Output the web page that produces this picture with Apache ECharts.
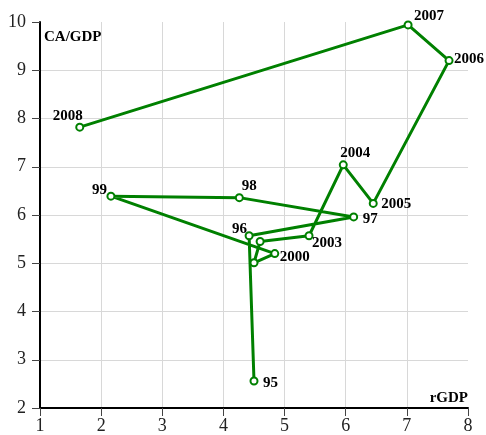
<!DOCTYPE html>
<html>
<head>
<meta charset="utf-8">
<script src="https://cdn.jsdelivr.net/npm/echarts@6/dist/echarts.min.js"></script>
<style>
html,body{margin:0;padding:0;background:#fff;}
#chart{width:486px;height:435px;}
</style>
</head>
<body>
<div id="chart"></div>
<script>
// Data
var years = ['95','96','97','98','99','2000','2001','2002','2003','2004','2005','2006','2007','2008'];
var rGDP  = [4.50, 4.42, 6.13, 4.26, 2.16, 4.84, 4.50, 4.60, 5.40, 5.96, 6.45, 7.69, 7.02, 1.65];
var caGDP = [2.56, 5.57, 5.96, 6.36, 6.39, 5.20, 5.01, 5.45, 5.57, 7.04, 6.24, 9.20, 9.94, 7.82];
var showLabel = [true,true,true,true,true,true,false,false,true,true,true,true,true,true];
var xTicks = [1,2,3,4,5,6,7,8];
var yTicks = [2,3,4,5,6,7,8,9,10];

// Label placement (styling): offsets of label centre from point, and alignment
var labelStyle = {
  '95':   {offset:[9,2],   align:'left'},
  '96':   {offset:[-2,-7], align:'right'},
  '97':   {offset:[9,2],   align:'left'},
  '98':   {offset:[10,-12],align:'center'},
  '99':   {offset:[-4,-6], align:'right'},
  '2000': {offset:[5,4],   align:'left'},
  '2003': {offset:[3,7],   align:'left'},
  '2004': {offset:[12,-12],align:'center'},
  '2005': {offset:[8,1],   align:'left'},
  '2006': {offset:[5,-1],  align:'left'},
  '2007': {offset:[21,-9], align:'center'},
  '2008': {offset:[3,-11], align:'right'}
};

var GREEN = '#008000';
var serif = '"Liberation Serif","DejaVu Serif",serif';

var seriesData = years.map(function(y, i){
  var item = {value:[rGDP[i], caGDP[i]], name:y};
  if (showLabel[i]) {
    var ls = labelStyle[y];
    item.label = {
      show:true, formatter:y, position:'inside',
      offset: ls.offset, align: ls.align, verticalAlign:'middle',
      color:'#000', fontFamily:serif, fontWeight:'bold', fontSize:15
    };
  } else {
    item.label = {show:false};
  }
  return item;
});

var chart = echarts.init(document.getElementById('chart'), null, {renderer:'canvas'});
chart.setOption({
  animation:false,
  backgroundColor:'#fff',
  grid:{left:40, right:18, top:22, bottom:25, containLabel:false},
  xAxis:{
    type:'value', min:xTicks[0], max:xTicks[xTicks.length-1], interval:1,
    axisLine:{show:true, onZero:false, lineStyle:{color:'#000', width:2}},
    axisTick:{show:true, length:8, lineStyle:{color:'#444', width:1}},
    axisLabel:{margin:9, color:'#222', fontFamily:serif, fontSize:18},
    splitLine:{show:true, showMinLine:false, showMaxLine:false, lineStyle:{color:'#d8d8d8', width:1}},
    name:'rGDP', nameLocation:'end', nameGap:0,
    nameTextStyle:{fontFamily:serif, fontWeight:'bold', fontSize:15, color:'#000', align:'right', verticalAlign:'bottom', padding:[0,0,2,0]}
  },
  yAxis:{
    type:'value', min:yTicks[0], max:yTicks[yTicks.length-1], interval:1,
    axisLine:{show:true, onZero:false, lineStyle:{color:'#000', width:2}},
    axisTick:{show:true, length:8, lineStyle:{color:'#444', width:1}},
    axisLabel:{margin:14, color:'#222', fontFamily:serif, fontSize:18},
    splitLine:{show:true, showMinLine:false, showMaxLine:false, lineStyle:{color:'#d8d8d8', width:1}},
    name:'CA/GDP', nameLocation:'end', nameGap:0,
    nameTextStyle:{fontFamily:serif, fontWeight:'bold', fontSize:15, color:'#000', align:'left', verticalAlign:'top', padding:[8,0,0,4]}
  },
  series:[{
    type:'line',
    data:seriesData,
    symbol:'circle', symbolSize:7,
    lineStyle:{color:GREEN, width:3},
    itemStyle:{color:'#fff', borderColor:GREEN, borderWidth:2},
    z:3
  }]
});
</script>
</body>
</html>
